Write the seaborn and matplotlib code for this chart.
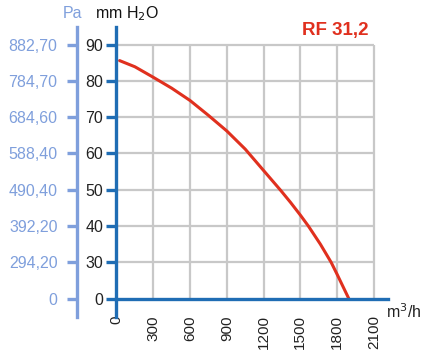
import numpy as np
import matplotlib
matplotlib.use("Agg")
import matplotlib.pyplot as plt
import seaborn as sns
import pandas as pd

# ---- data ----
flow = [25, 150, 300, 450, 600, 750, 900, 1050, 1200, 1340, 1420, 1500, 1565, 1663, 1751, 1800, 1895]
pressure = [85.6, 83.9, 81.0, 78.0, 74.6, 70.5, 66.2, 61.2, 55.3, 49.8, 46.5, 43.0, 40.0, 35.0, 30.0, 20.0, 0.0]
x_ticks = [0, 300, 600, 900, 1200, 1500, 1800, 2100]
mm_ticks = [0, 30, 40, 50, 60, 70, 80, 90]
pa_labels = ["0", "294,20", "392,20", "490,40", "588,40", "684,60", "784,70", "882,70"]
title = "RF 31,2"

sns.set_style("white")
plt.rcParams['font.family'] = ['Liberation Sans', 'DejaVu Sans']

DARK = "#1f6db4"
LIGHT = "#7f9fdc"
RED = "#e0301e"
GRID = "#c8c8c8"
FS = 11.5

def fwd(y):
    y = np.asarray(y, dtype=float)
    return np.where(y < 30, y / 30.0, 1.0 + (y - 30.0) / 10.0)

def inv(p):
    p = np.asarray(p, dtype=float)
    return np.where(p < 1, p * 30.0, 30.0 + (p - 1.0) * 10.0)

W, H = 421, 358
fig = plt.figure(figsize=(W / 100, H / 100), dpi=100)
left_px, right_px = 116.5, 388
bot_px, top_px = 316.7, 26.5
ax = fig.add_axes([left_px / W, 1 - bot_px / H, (right_px - left_px) / W, (bot_px - top_px) / H])

ax.set_yscale('function', functions=(fwd, inv))
ax.set_xlim(0, 2215)
ax.set_ylim(-15, 95)

# grid box
ax.hlines(mm_ticks[1:], 0, 2100, color=GRID, lw=1.6, zorder=1)
ax.vlines(x_ticks[1:], 0, 90, color=GRID, lw=1.6, zorder=1)

df = pd.DataFrame({"flow": flow, "pressure": pressure})
sns.lineplot(data=df, x="flow", y="pressure", sort=False, color=RED, lw=2.2, ax=ax, zorder=3)
ax.set_xlabel("")
ax.set_ylabel("")

for s in ["top", "right"]:
    ax.spines[s].set_visible(False)
ax.spines["left"].set_color(DARK)
ax.spines["left"].set_linewidth(2.4)
ax.spines["left"].set_zorder(4)
ax.spines["bottom"].set_position(("data", 0))
ax.spines["bottom"].set_color(DARK)
ax.spines["bottom"].set_linewidth(2.4)
ax.spines["bottom"].set_zorder(4)

ax.set_xticks(x_ticks)
ax.set_xticklabels([str(v) for v in x_ticks], rotation=90, fontsize=11, color="#222222")
ax.set_yticks(mm_ticks)
ax.set_yticklabels([str(v) for v in mm_ticks], fontsize=FS, color="#222222")
ax.tick_params(axis="x", direction="out", length=9, width=2.4, color=DARK, pad=3)
ax.tick_params(axis="y", direction="out", length=7.5, width=2.4, color=DARK, pad=2)
ax.minorticks_off()

# Pa axis
ax2 = ax.twinx()
ax2.set_yscale('function', functions=(fwd, inv))
ax2.set_ylim(-15, 95)
for s in ["top", "right", "bottom"]:
    ax2.spines[s].set_visible(False)
ax2.yaxis.set_ticks_position("left")
ax2.yaxis.set_label_position("left")
ax2.spines["left"].set_position(("axes", (77 - left_px) / (right_px - left_px)))
ax2.spines["left"].set_color(LIGHT)
ax2.spines["left"].set_linewidth(2.4)
ax2.set_yticks(mm_ticks)
ax2.set_yticklabels(pa_labels, fontsize=FS, color=LIGHT)
ax2.tick_params(axis="y", direction="out", length=7.5, width=2.4, color=LIGHT, pad=6.5)
ax2.minorticks_off()

fig.text(72 / W, 1 - 14 / H, "Pa", color=LIGHT, fontsize=FS, ha="center", va="center")
fig.text(95 / W, 1 - 14 / H, "mm H$_2$O", color="#111111", fontsize=FS, ha="left", va="center")
fig.text(368 / W, 1 - 30 / H, title, color=RED, fontsize=13.5, fontweight="bold", ha="right", va="center")
fig.text(386 / W, 1 - 312 / H, "m$^3$/h", color="#222222", fontsize=FS, ha="left", va="center")

fig.savefig("out.png", dpi=100)
